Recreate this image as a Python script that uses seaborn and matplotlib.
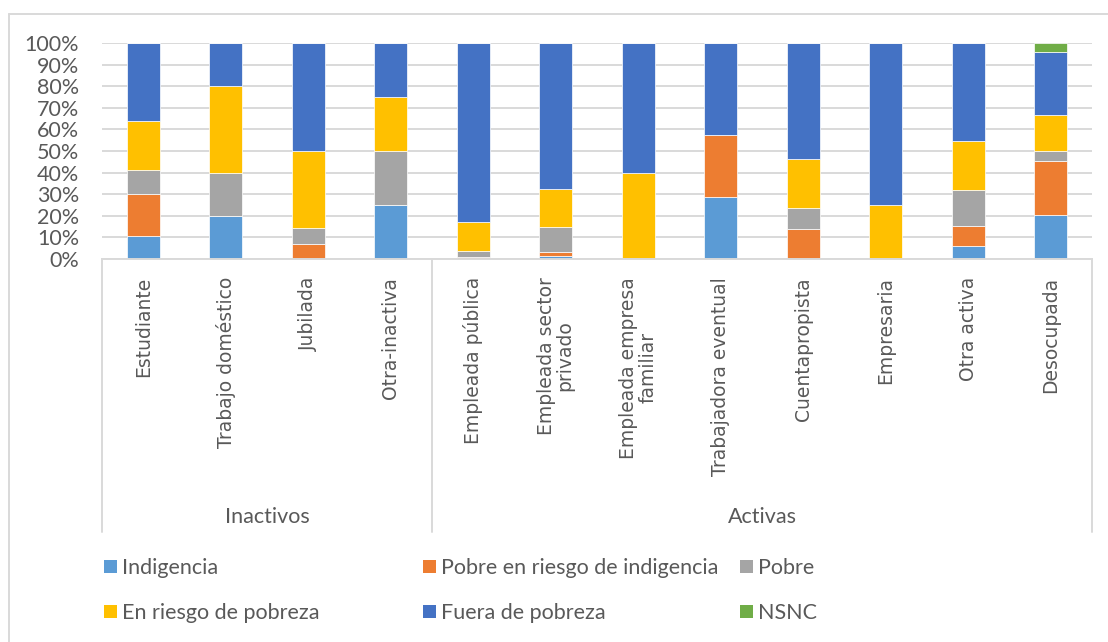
import matplotlib
matplotlib.use("Agg")
import matplotlib.pyplot as plt
import matplotlib.transforms as mtransforms
from matplotlib.patches import Patch
from matplotlib.lines import Line2D
import seaborn as sns
import pandas as pd

# ---------------- data (percent) ----------------
categories = ["Estudiante", "Trabajo doméstico", "Jubilada", "Otra-inactiva",
              "Empleada pública", "Empleada sector\nprivado", "Empleada empresa\nfamiliar",
              "Trabajadora eventual", "Cuentapropista", "Empresaria", "Otra activa", "Desocupada"]
groups = ["Inactivos", "Activas"]
group_sizes = [4, 8]

series_names = ["Indigencia", "Pobre en riesgo de indigencia", "Pobre",
                "En riesgo de pobreza", "Fuera de pobreza", "NSNC"]
indigencia   = [10.5, 20.0, 0.0, 25.0, 0.0, 1.2, 0.0, 28.6, 0.0, 0.0, 5.9, 20.2]
pobre_riesgo = [19.6, 0.0, 7.1, 0.0, 0.7, 2.2, 0.0, 28.6, 14.1, 0.0, 9.6, 25.4]
pobre        = [11.3, 20.0, 7.1, 25.0, 2.9, 11.4, 0.0, 0.0, 9.7, 0.0, 16.3, 4.2]
en_riesgo    = [22.4, 40.0, 35.8, 25.0, 13.4, 17.7, 40.0, 0.0, 22.4, 25.0, 22.9, 16.8]
fuera        = [36.2, 20.0, 50.0, 25.0, 83.0, 67.5, 60.0, 42.8, 53.8, 75.0, 45.3, 29.4]
nsnc         = [0.0, 0.0, 0.0, 0.0, 0.0, 0.0, 0.0, 0.0, 0.0, 0.0, 0.0, 4.0]
series_values = [indigencia, pobre_riesgo, pobre, en_riesgo, fuera, nsnc]
colors = ["#5B9BD5", "#ED7D31", "#A5A5A5", "#FFC000", "#4472C4", "#70AD47"]

y_ticks = list(range(0, 101, 10))
y_tick_labels = [f"{v}%" for v in y_ticks]

# ---------------- long table ----------------
rows = []
for ci, cat in enumerate(categories):
    for name, vals in zip(series_names, series_values):
        if vals[ci] > 0:
            rows.append({"cat": cat, "serie": name, "val": vals[ci]})
df = pd.DataFrame(rows)
df["cat"] = pd.Categorical(df["cat"], categories=categories, ordered=True)

sns.set_theme(style="white")
plt.rcParams["font.family"] = ["Lato", "DejaVu Sans"]

W, H = 1108, 642
fig = plt.figure(figsize=(W / 100, H / 100), dpi=100)
ax_l, ax_r, ax_t, ax_b = 102, 1092, 43, 259
ax = fig.add_axes([ax_l / W, 1 - ax_b / H, (ax_r - ax_l) / W, (ax_b - ax_t) / H])

palette = dict(zip(series_names, colors))
sns.histplot(data=df, x="cat", weights="val", hue="serie",
             hue_order=series_names[::-1], multiple="stack", discrete=True,
             shrink=0.4, palette=palette, alpha=1, edgecolor="#FFFFFF",
             linewidth=0.5, legend=False, ax=ax, zorder=3)

text_grey = "#595959"
grid_grey = "#D9D9D9"

ax.set_xlim(-0.5, len(categories) - 0.5)
ax.set_ylim(0, 100)
ax.set_yticks(y_ticks)
ax.set_yticklabels(y_tick_labels)
ax.yaxis.grid(True, color=grid_grey, lw=1.4, zorder=0)
ax.set_axisbelow(True)
ax.tick_params(axis="y", length=0, pad=16.5, labelsize=15.5, labelcolor=text_grey)
ax.set_xticks(range(len(categories)))
ax.set_xticklabels(categories, rotation=90, va="top", ha="center",
                   family="DejaVu Sans", fontsize=13.5, color=text_grey,
                   linespacing=1.0)
ax.tick_params(axis="x", length=0, pad=13)
ax.set_xlabel("")
ax.set_ylabel("")
for s in ["left", "right", "top"]:
    ax.spines[s].set_visible(False)
ax.spines["bottom"].set_color(grid_grey)
ax.spines["bottom"].set_linewidth(1.4)
ax.spines["bottom"].set_zorder(4)

# multi-level category separators and group labels
trans = mtransforms.blended_transform_factory(ax.transData, ax.transAxes)
sep_bottom = -(532 - ax_b) / (ax_b - ax_t)
lab_y = -(517 - ax_b) / (ax_b - ax_t)
start = -0.5
edges = [start]
for g, n in zip(groups, group_sizes):
    ax.text(start + n / 2, lab_y, g, transform=trans, ha="center", va="center",
            fontsize=15.5, color=text_grey)
    start += n
    edges.append(start)
for e in edges:
    ax.add_line(Line2D([e, e], [0, sep_bottom], transform=trans, color=grid_grey,
                       lw=1.4, clip_on=False))

# legend (3 columns x 2 rows, fixed positions)
leg_x = [104, 423, 740]
leg_y = [568, 613]
for i, (name, col) in enumerate(zip(series_names, colors)):
    r, c = divmod(i, 3)
    leg = fig.legend(handles=[Patch(facecolor=col, edgecolor="none")], labels=[name],
                     loc="center left", bbox_to_anchor=(leg_x[c] / W, 1 - leg_y[r] / H),
                     frameon=False, borderpad=0, borderaxespad=0, handlelength=0.6,
                     handleheight=0.6, handletextpad=0.25, fontsize=15.5,
                     labelcolor=text_grey)

# outer chart frame (partially visible)
fig.add_artist(Line2D([9 / W, 9 / W], [0, 1 - 14 / H], transform=fig.transFigure,
                      color=grid_grey, lw=1.4))
fig.add_artist(Line2D([9 / W, 1], [1 - 14 / H, 1 - 14 / H], transform=fig.transFigure,
                      color=grid_grey, lw=1.4))

fig.savefig("out.png", dpi=100, facecolor="white")
